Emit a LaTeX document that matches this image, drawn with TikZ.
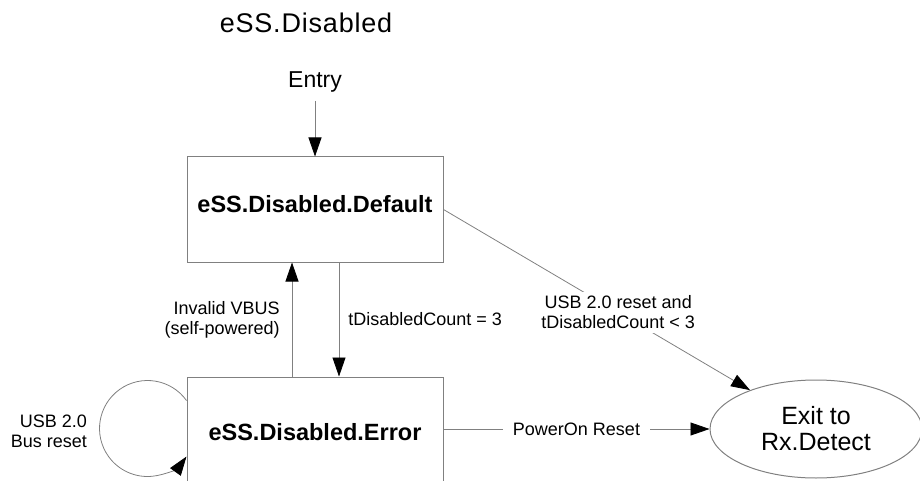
\documentclass[tikz,border=0pt]{standalone}
\usepackage{fontspec}
\setmainfont{Liberation Sans}
\usepackage{xcolor}
\usetikzlibrary{arrows.meta, positioning, calc, shapes.geometric}
\definecolor{linegray}{RGB}{128,128,128}

\begin{document}
\begin{tikzpicture}[x=1pt, y=1pt,
    statebox/.style={draw=linegray, line width=1pt, minimum width=256pt, text depth=11pt,
      font=\fontsize{23.5}{26}\selectfont\bfseries},
    trans/.style={draw=linegray, line width=0.8pt, -{Triangle[length=19pt, width=13pt, color=black]}},
    cond/.style={font=\fontsize{18}{20}\selectfont, align=center, inner sep=4pt}]
  \useasboundingbox (0,0) rectangle (920,480);
  \clip (0,0) rectangle (920,480);
  % title and entry point
  \node[anchor=base, font=\fontsize{27}{30}\selectfont\addfontfeature{LetterSpace=3}] (title) at (306,447) {eSS.Disabled};
  \node[anchor=base, inner sep=8pt, font=\fontsize{23}{26}\selectfont] (entry) at (315,392) {Entry};
  % states
  \node[statebox, minimum height=105pt] (def) at (315,270.5) {eSS.Disabled.Default};
  \node[statebox, minimum height=120pt] (err) at (315,43) {eSS.Disabled.Error};
  \node[ellipse, draw=linegray, line width=1pt, minimum width=212pt, minimum height=98pt, inner sep=0pt,
    align=center, font=\fontsize{25}{26}\selectfont] (ext) at (816,51) {Exit to\\Rx.Detect};
  % transitions
  \draw[trans] (entry.south) -- (def.north);
  \draw[trans] ([xshift=-23pt]err.north) -- node[cond, align=right, midway, left=8pt] (vbus) {Invalid VBUS\\(self-powered)} ([xshift=-23pt]def.south);
  \draw[trans] ([xshift=24pt]def.south) -- node[cond, midway, right=5pt] (cnt) {tDisabledCount = 3} ([xshift=24pt]err.north);
  \draw[trans] (def.east) -- node[cond, fill=white, pos=0.57] (usbrst) {USB 2.0 reset and\\tDisabledCount < 3} (ext);
  \draw[trans] (err.east |- ext.west) -- node[cond, fill=white, inner xsep=10pt] (por) {PowerOn Reset} (ext.west);
  % self loop
  \draw[trans] ([yshift=-24pt]err.north west) arc[start angle=35.7, end angle=324.3, radius=48pt];
  \node[cond, align=right, anchor=east] (busrst) at (91,49) {USB 2.0\\Bus reset};
\end{tikzpicture}
\end{document}
